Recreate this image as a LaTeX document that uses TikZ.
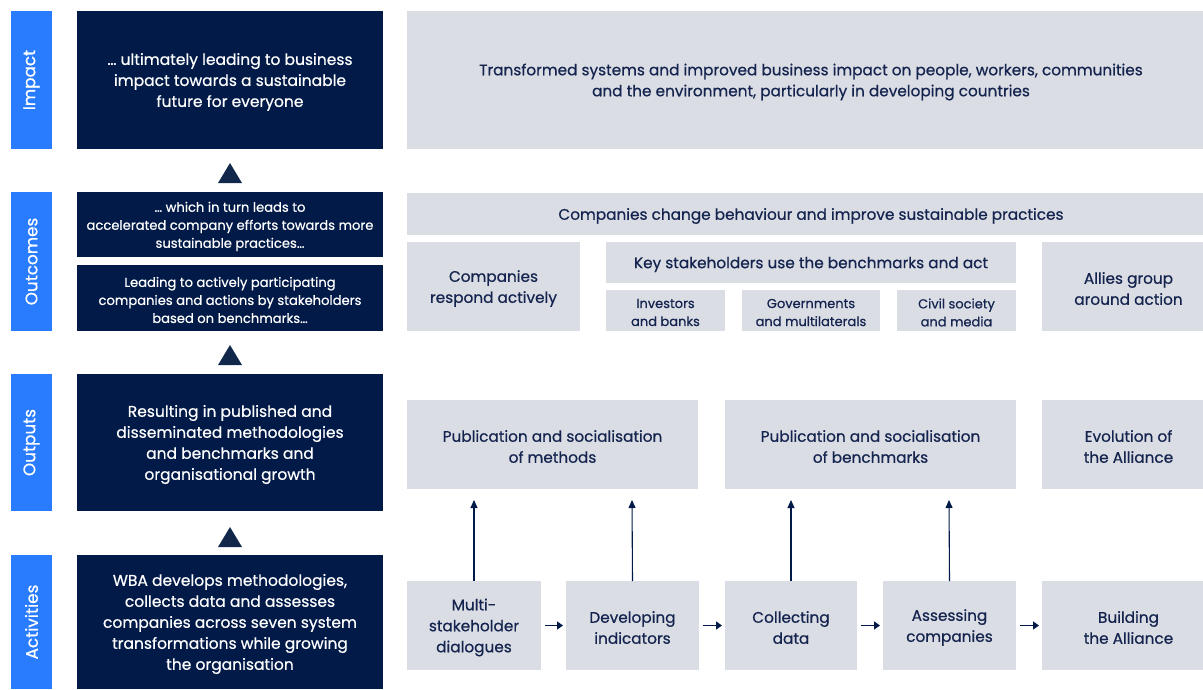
\documentclass[tikz,border=0pt]{standalone}
\usepackage{fontspec}
\setmainfont{Poppins}[FakeBold=0.6]
\usetikzlibrary{arrows.meta}
\definecolor{barblue}{RGB}{42,124,255}
\definecolor{navy}{RGB}{2,26,72}
\definecolor{tri}{RGB}{18,40,75}
\definecolor{panel}{RGB}{219,221,229}
\definecolor{paneltext}{RGB}{20,36,78}
\tikzset{
  base/.style={inner sep=0pt, outer sep=0pt, align=center},
  bar/.style={base, fill=barblue},
  barlabel/.style={rotate=90, text=white, font=\fontsize{16.8}{20}\selectfont},
  dark/.style={base, fill=navy, text=white, font=\fontsize{15.5}{21}\selectfont},
  darksmall/.style={base, fill=navy, text=white, font=\fontsize{13.1}{18}\selectfont},
  panelbox/.style={base, fill=panel, text=paneltext, font=\fontsize{15.3}{21}\selectfont},
  panelsmall/.style={base, fill=panel, text=paneltext, font=\fontsize{13}{18}\selectfont},
  marker/.style={fill=tri, draw=none},
  uparrow/.style={draw=navy, line width=1.1pt, -{Triangle[width=7pt,length=8pt]}},
  steparrow/.style={draw=navy, line width=1.8pt, -{Triangle[width=8pt,length=6pt]}},
}
% \rbox{name}{style}{x1}{y1}{x2}{y2}{text}: filled box plus its centred text
\newcommand{\rbox}[7]{%
  \node[#2, minimum width={(#5-#3)*1pt}, minimum height={(#6-#4)*1pt}]
    (#1) at ({(#3+#5)/2},{(#4+#6)/2}) {};
  \node[#2, fill=none, yshift=-2pt] (#1-text) at (#1.center) {#7};}
\begin{document}
\begin{tikzpicture}[x=1pt,y=-1pt]
\useasboundingbox (0,0) rectangle (1203,689);

% level labels
\rbox{barImpact}{bar}{11}{11}{52}{149}{}
\rbox{barOutcomes}{bar}{11}{192}{52}{331}{}
\rbox{barOutputs}{bar}{11}{374}{52}{511}{}
\rbox{barActivities}{bar}{11}{555}{52}{689}{}
\node[barlabel] (lImpact) at (barImpact) {Impact};
\node[barlabel] (lOutcomes) at (barOutcomes) {Outcomes};
\node[barlabel] (lOutputs) at (barOutputs) {Outputs};
\node[barlabel] (lActivities) at (barActivities) {Activities};

% theory of change column
\rbox{dImpact}{dark}{77}{11}{383}{149}{\dots\ ultimately leading to business\\impact towards a sustainable\\future for everyone}
\rbox{dOutA}{darksmall}{77}{192}{383}{257}{\dots\ which in turn leads to\\accelerated company efforts towards more\\sustainable practices\dots}
\rbox{dOutB}{darksmall}{77}{265}{383}{331}{Leading to actively participating\\companies and actions by stakeholders\\based on benchmarks\dots}
\rbox{dOutputs}{dark}{77}{374}{383}{511}{Resulting in published and\\disseminated methodologies\\and benchmarks and\\organisational growth}
\rbox{dActivities}{dark}{77}{555}{383}{689}{WBA develops methodologies,\\collects data and assesses\\companies across seven system\\transformations while growing\\the organisation}

% upward markers between levels
\fill[marker] (218,183) -- (242,183) -- (230,163) -- cycle;
\fill[marker] (218,365) -- (242,365) -- (230,345) -- cycle;
\fill[marker] (218,547) -- (242,547) -- (230,527) -- cycle;

% impact (right-hand column runs past the page edge)
\rbox{pImpact}{panelbox}{407}{11}{1215}{149}{Transformed systems and improved business impact on people, workers, communities\\and the environment, particularly in developing countries}

% outcomes
\rbox{pChange}{panelbox}{407}{193}{1215}{235}{Companies change behaviour and improve sustainable practices}
\rbox{pRespond}{panelbox}{407}{242}{580}{331}{Companies\\respond actively}
\rbox{pKey}{panelbox}{606}{242}{1016}{283}{Key stakeholders use the benchmarks and act}
\rbox{pInvestors}{panelsmall}{606}{290}{725}{331}{Investors\\and banks}
\rbox{pGov}{panelsmall}{742}{290}{880}{331}{Governments\\and multilaterals}
\rbox{pCivil}{panelsmall}{897}{290}{1016}{331}{Civil society\\and media}
\rbox{pAllies}{panelbox}{1042}{242}{1215}{331}{Allies group\\around action}

% outputs
\rbox{pMethods}{panelbox}{407}{400}{698}{489}{Publication and socialisation\\of methods}
\rbox{pBench}{panelbox}{725}{400}{1016}{489}{Publication and socialisation\\of benchmarks}
\rbox{pEvolution}{panelbox}{1042}{400}{1215}{489}{Evolution of\\the Alliance}

% activities
\rbox{aMulti}{panelbox}{407}{581}{541}{670}{Multi-\\stakeholder\\dialogues}
\rbox{aDev}{panelbox}{566}{581}{699}{670}{Developing\\indicators}
\rbox{aCollect}{panelbox}{725}{581}{857}{670}{Collecting\\data}
\rbox{aAssess}{panelbox}{883}{581}{1016}{670}{Assessing\\companies}
\rbox{aBuild}{panelbox}{1042}{581}{1215}{670}{Building\\the Alliance}

% activity flow
\draw[steparrow] ([xshift=4pt]aMulti.east) -- ([xshift=-3pt]aDev.west);
\draw[steparrow] ([xshift=4pt]aDev.east) -- ([xshift=-3pt]aCollect.west);
\draw[steparrow] ([xshift=4pt]aCollect.east) -- ([xshift=-3pt]aAssess.west);
\draw[steparrow] ([xshift=4pt]aAssess.east) -- ([xshift=-3pt]aBuild.west);

% activities feeding outputs
\coordinate (tMulti) at (474,500);
\coordinate (tDev) at (632,500);
\coordinate (tCollect) at (791,500);
\coordinate (tAssess) at (949,500);
\draw[uparrow] (aMulti.north) -- (tMulti);
\draw[uparrow] (aDev.north) -- (tDev);
\draw[uparrow] (aCollect.north) -- (tCollect);
\draw[uparrow] (aAssess.north) -- (tAssess);
\end{tikzpicture}
\end{document}
